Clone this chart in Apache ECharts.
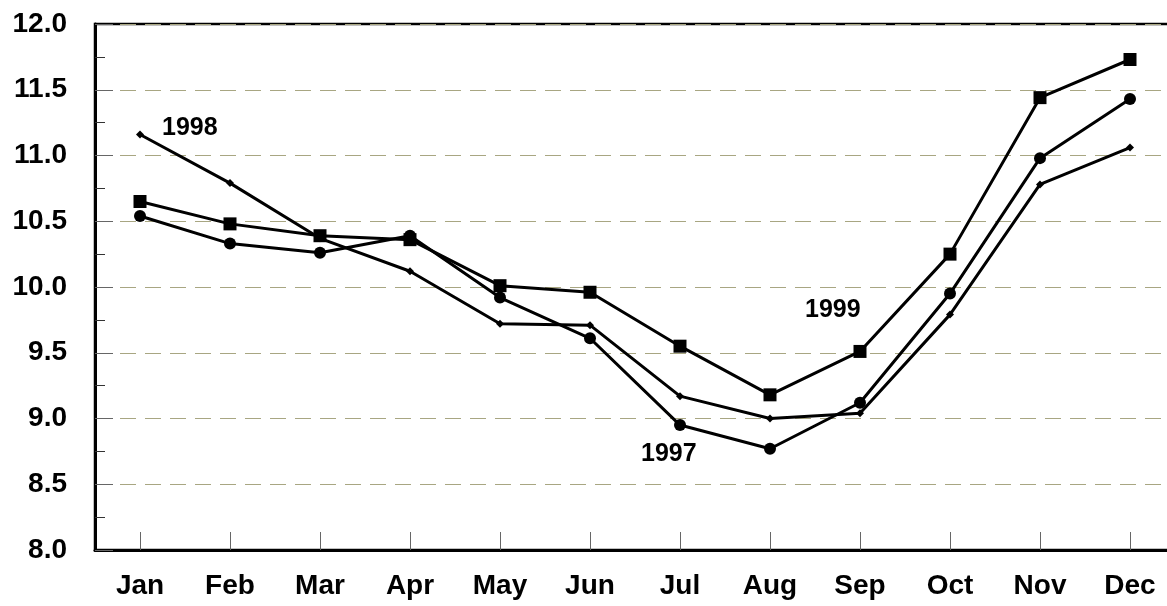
<!DOCTYPE html>
<html>
<head>
<meta charset="utf-8">
<script src="https://cdn.jsdelivr.net/npm/echarts@6/dist/echarts.min.js"></script>
<style>
html,body{margin:0;padding:0;background:#fff;}
#chart{width:1167px;height:606px;}
</style>
</head>
<body>
<div id="chart"></div>
<script>
const months = ['Jan','Feb','Mar','Apr','May','Jun','Jul','Aug','Sep','Oct','Nov','Dec'];
const s1997 = [10.54,10.33,10.26,10.39,9.92,9.61,8.95,8.77,9.12,9.95,10.98,11.43];
const s1998 = [11.16,10.79,10.37,10.12,9.72,9.71,9.17,9.00,9.04,9.79,10.78,11.06];
const s1999 = [10.65,10.48,10.39,10.36,10.01,9.96,9.55,9.18,9.51,10.25,11.44,11.73];
const yearLabels = ['1997','1998','1999'];

const chart = echarts.init(document.getElementById('chart'), null, {renderer:'canvas'});
const font = 'Liberation Sans, Arial, sans-serif';
function line(name, data, symbol, size){
  return {
    name: name, type: 'line', data: data,
    symbol: symbol, symbolSize: size, showSymbol: true,
    lineStyle: {color: '#000', width: 3},
    itemStyle: {color: '#000'},
    emphasis: {disabled: true},
    z: 3
  };
}
chart.setOption({
  animation: false,
  backgroundColor: '#fff',
  grid: {left: 95, top: 24, width: 1080, height: 526, outerBoundsMode: 'none', containLabel: false, show: true, borderColor: '#000', borderWidth: 2.5, backgroundColor: 'transparent'},
  xAxis: {
    type: 'category', data: months, boundaryGap: true,
    axisLine: {lineStyle: {color: '#000', width: 3}},
    axisTick: {show: true, inside: true, length: 18, alignWithLabel: true, lineStyle: {color: '#666', width: 1}},
    axisLabel: {color: '#000', fontSize: 28, fontWeight: 'bold', fontFamily: font, margin: 22},
    splitLine: {show: false}
  },
  yAxis: {
    type: 'value', min: 8, max: 12, interval: 0.5,
    axisLine: {show: true, lineStyle: {color: '#000', width: 3}},
    axisTick: {show: true, inside: true, length: 18, lineStyle: {color: '#666', width: 1}},
    minorTick: {show: true, splitNumber: 2, length: 10, lineStyle: {color: '#333', width: 1}},
    axisLabel: {color: '#000', fontSize: 28, fontWeight: 'bold', fontFamily: font, margin: 28, formatter: v => v.toFixed(1)},
    splitLine: {show: true, lineStyle: {color: '#a8a682', width: 1, type: [16, 9]}}
  },
  series: [
    line(yearLabels[1], s1998, 'diamond', 8),
    line(yearLabels[0], s1997, 'circle', 12),
    line(yearLabels[2], s1999, 'rect', 13)
  ],
  graphic: [
    {type: 'text', left: 162, top: 116, style: {text: yearLabels[1], fontSize: 25, fontWeight: 'bold', fontFamily: font, fill: '#000'}},
    {type: 'text', left: 641, top: 442, style: {text: yearLabels[0], fontSize: 25, fontWeight: 'bold', fontFamily: font, fill: '#000'}},
    {type: 'text', left: 805, top: 298, style: {text: yearLabels[2], fontSize: 25, fontWeight: 'bold', fontFamily: font, fill: '#000'}}
  ]
});
</script>
</body>
</html>
